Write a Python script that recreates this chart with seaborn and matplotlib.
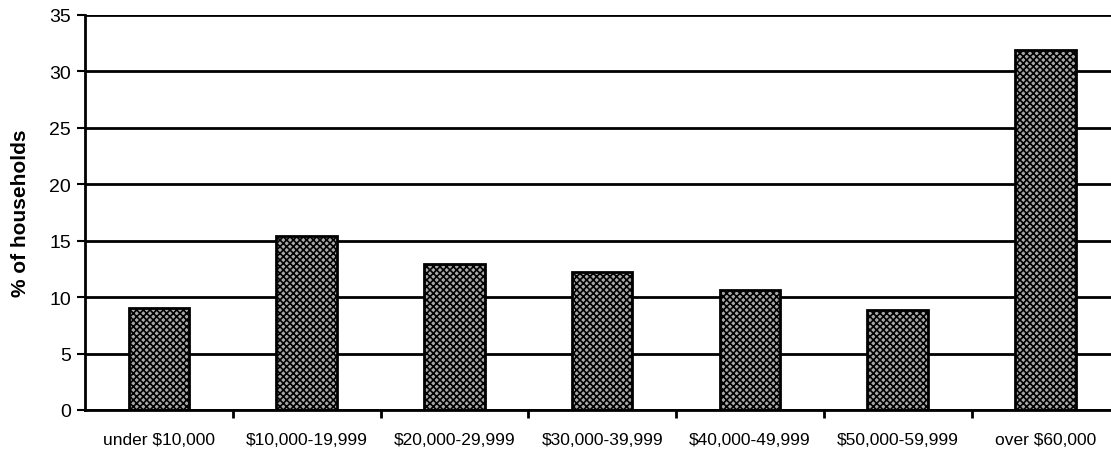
import matplotlib
matplotlib.use("Agg")
import matplotlib.pyplot as plt
import seaborn as sns
import pandas as pd

# Household income distribution
categories = ["under $10,000", "$10,000-19,999", "$20,000-29,999", "$30,000-39,999",
              "$40,000-49,999", "$50,000-59,999", "over $60,000"]
shares = [9.0, 15.4, 12.9, 12.2, 10.6, 8.9, 31.9]
y_ticks = [0, 5, 10, 15, 20, 25, 30, 35]

df = pd.DataFrame({"income": categories, "pct": shares})

sns.set_style("white")
plt.rcParams["font.family"] = ["Liberation Sans", "DejaVu Sans"]
plt.rcParams["hatch.linewidth"] = 1.2
plt.rcParams["text.color"] = "black"
plt.rcParams["axes.labelcolor"] = "black"
plt.rcParams["xtick.color"] = "black"
plt.rcParams["ytick.color"] = "black"

fig = plt.figure(figsize=(11.11, 4.56), dpi=100)
ax = fig.add_axes([0.0765, 0.0987, 0.931, 0.8663])

sns.barplot(data=df, x="income", y="pct", color="#a8a8a8", width=0.41,
            edgecolor="black", linewidth=2.0, ax=ax, zorder=3)
for p in ax.patches:
    p.set_hatch("xxxxx")
    p.set_edgecolor("black")

ax.set_ylim(0, 35)
ax.set_xlim(-0.5, len(categories) - 0.5)
ax.set_yticks(y_ticks)
ax.set_yticklabels([str(v) for v in y_ticks], fontsize=14)
for v in y_ticks:
    ax.axhline(v, color="black", linewidth=2.0, zorder=1)

# category boundaries carry the x tick marks; labels sit centered under bars
ax.set_xticks([i + 0.5 for i in range(len(categories) - 1)] + [len(categories) - 0.5])
ax.set_xticklabels([])
ax.tick_params(axis="x", which="major", bottom=True, direction="out", length=6, width=2, color="black")
ax.set_xticks(range(len(categories)), minor=True)
ax.set_xticklabels(categories, minor=True, fontsize=12.5)
ax.tick_params(axis="x", which="minor", bottom=True, length=0, pad=16, labelcolor="black")
ax.tick_params(axis="y", left=True, direction="out", length=6, width=1.5, color="black", pad=4,
               labelcolor="black")

ax.set_xlabel("")
ax.set_ylabel("% of households", fontsize=15, fontweight="bold", labelpad=14, color="black")

for side in ["top", "right"]:
    ax.spines[side].set_visible(False)
for side in ["left", "bottom"]:
    ax.spines[side].set_color("black")
    ax.spines[side].set_linewidth(2.0)
    ax.spines[side].set_zorder(4)

fig.savefig("out.png", dpi=100)
